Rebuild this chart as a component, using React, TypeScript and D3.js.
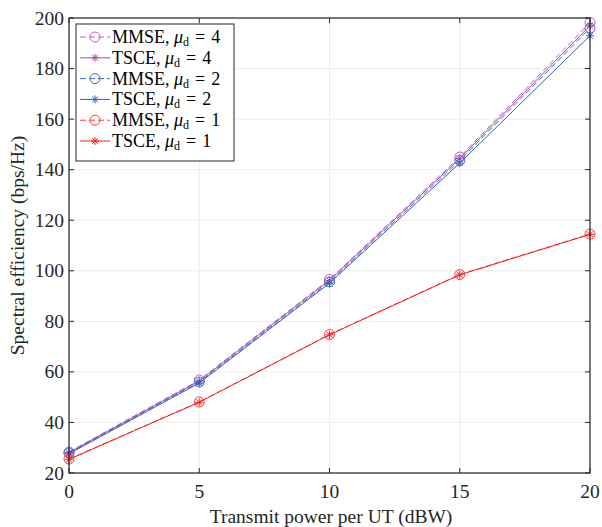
import React from "react";
import * as d3 from "d3";

const xValues = [0, 5, 10, 15, 20];
const mmse4 = [28.3, 56.8, 96.6, 145.0, 198.2];
const tsce4 = [28.1, 56.4, 96.2, 144.4, 197.0];
const mmse2 = [27.9, 56.0, 95.6, 143.6, 196.0];
const tsce2 = [27.6, 55.6, 95.1, 142.6, 193.0];
const mmse1 = [25.5, 48.1, 74.8, 98.5, 114.5];
const tsce1 = [25.4, 48.0, 74.7, 98.4, 114.4];
const xTicks = [0, 5, 10, 15, 20];
const yTicks = [20, 40, 60, 80, 100, 120, 140, 160, 180, 200];

const seriesNames = ["MMSE", "TSCE", "MMSE", "TSCE", "MMSE", "TSCE"];
const seriesMu = ["4", "4", "2", "2", "1", "1"];
const seriesData = [mmse4, tsce4, mmse2, tsce2, mmse1, tsce1];
const seriesColor = ["#c65fc2", "#b048a6", "#3f6cc6", "#3060c0", "#ff3b3b", "#ff1f1f"];
const seriesDashed = [true, false, true, false, true, false];
const seriesMarker = ["circle", "star", "circle", "star", "circle", "star"];

const W = 602, H = 527;
const L = 69, R = 590, T = 18, B = 473;
const FONT = "Liberation Serif, serif";
const txt = { fontFamily: FONT };

function Marker({ type, x, y, color }: { type: string; x: number; y: number; color: string }) {
  if (type === "circle") {
    return <circle cx={x} cy={y} r={5} fill="none" stroke={color} strokeWidth={1} />;
  }
  const s = 4;
  const d = s * 0.72;
  return (
    <g stroke={color} strokeWidth={1}>
      <line x1={x - s} y1={y} x2={x + s} y2={y} />
      <line x1={x} y1={y - s} x2={x} y2={y + s} />
      <line x1={x - d} y1={y - d} x2={x + d} y2={y + d} />
      <line x1={x - d} y1={y + d} x2={x + d} y2={y - d} />
    </g>
  );
}

export default function App() {
  const xs = d3.scaleLinear().domain([0, 20]).range([L, R]);
  const ys = d3.scaleLinear().domain([20, 200]).range([B, T]);
  const line = d3
    .line<number>()
    .x((_, i) => xs(xValues[i]))
    .y((v) => ys(v));

  const legX = 76, legY = 24, legW = 158, legH = 137;
  const rowH = 20.8;

  return (
    <svg width={W} height={H} style={{ position: "absolute", left: 0, top: 0, background: "#fff" }}>
      <rect x={0} y={0} width={W} height={H} fill="#fff" />
      {xTicks.map((t) => (
        <line key={"gx" + t} x1={xs(t)} x2={xs(t)} y1={T} y2={B} stroke="#e8e8e8" strokeWidth={0.8} />
      ))}
      {yTicks.map((t) => (
        <line key={"gy" + t} x1={L} x2={R} y1={ys(t)} y2={ys(t)} stroke="#e8e8e8" strokeWidth={0.8} />
      ))}
      {seriesData.map((data, si) => (
        <g key={"s" + si}>
          <path
            d={line(data) || ""}
            fill="none"
            stroke={seriesColor[si]}
            strokeWidth={1}
            strokeDasharray={seriesDashed[si] ? "6,3" : undefined}
          />
          {data.map((v, i) => (
            <Marker key={i} type={seriesMarker[si]} x={xs(xValues[i])} y={ys(v)} color={seriesColor[si]} />
          ))}
        </g>
      ))}
      <rect x={L} y={T} width={R - L} height={B - T} fill="none" stroke="#262626" strokeWidth={1.2} />
      {xTicks.map((t) => (
        <g key={"tx" + t}>
          <line x1={xs(t)} x2={xs(t)} y1={B} y2={B - 5} stroke="#262626" />
          <line x1={xs(t)} x2={xs(t)} y1={T} y2={T + 5} stroke="#262626" />
          <text x={xs(t)} y={B + 25} textAnchor="middle" fontSize={19.5} fill="#262626" style={txt}>{t}</text>
        </g>
      ))}
      {yTicks.map((t) => (
        <g key={"ty" + t}>
          <line x1={L} x2={L + 5} y1={ys(t)} y2={ys(t)} stroke="#262626" />
          <line x1={R} x2={R - 5} y1={ys(t)} y2={ys(t)} stroke="#262626" />
          <text x={L - 5} y={ys(t) + 6.5} textAnchor="end" fontSize={19.5} fill="#262626" style={txt}>{t}</text>
        </g>
      ))}
      <text x={331} y={B + 50} textAnchor="middle" fontSize={19.5} fill="#262626" style={txt}>
        Transmit power per UT (dBW)
      </text>
      <text
        transform={`translate(24, ${(T + B) / 2}) rotate(-90)`}
        textAnchor="middle"
        fontSize={19.5}
        fill="#262626"
        style={txt}
      >
        Spectral efficiency (bps/Hz)
      </text>
      <rect x={legX} y={legY} width={legW} height={legH} fill="#fff" stroke="#262626" strokeWidth={1} />
      {seriesNames.map((name, i) => {
        const cy = legY + 13 + i * rowH;
        return (
          <g key={"l" + i}>
            <line
              x1={legX + 4}
              x2={legX + 34}
              y1={cy}
              y2={cy}
              stroke={seriesColor[i]}
              strokeWidth={1}
              strokeDasharray={seriesDashed[i] ? "6,3" : undefined}
            />
            <Marker type={seriesMarker[i]} x={legX + 19} y={cy} color={seriesColor[i]} />
            <text x={legX + 36} y={cy + 6} fontSize={18} fill="#000" style={txt}>
              {name}, <tspan fontStyle="italic">μ</tspan>
              <tspan fontSize={12} dy={3}>d</tspan>
              <tspan dy={-3} dx={6}>=</tspan>
              <tspan dx={6}>{seriesMu[i]}</tspan>
            </text>
          </g>
        );
      })}
    </svg>
  );
}
